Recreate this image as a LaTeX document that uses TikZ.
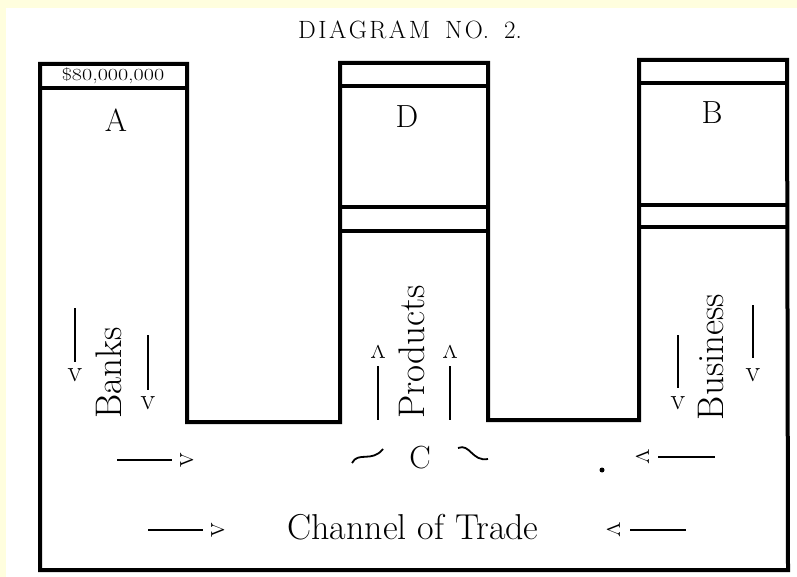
\documentclass[tikz,border=0pt]{standalone}
\definecolor{cream}{RGB}{255,254,222}
\begin{document}
\begin{tikzpicture}[x=1pt,y=-1pt,
  wall/.style={line width=4pt, line join=miter},
  lbl/.style={font=\fontsize{32}{32}\selectfont, inner sep=0pt},
  word/.style={font=\fontsize{37}{37}\selectfont, inner sep=0pt, rotate=90},
  stem/.style={line width=1.6pt},
  tip/.style={font=\fontsize{30}{30}\selectfont, inner sep=0pt},
  wave/.style={line width=1.8pt},
]
\useasboundingbox (0,0) rectangle (797,577);
\fill[cream] (0,0) rectangle (797,577);
\fill[white] (6,8) rectangle (797,577);

% title
\node[inner sep=0pt, font=\fontsize{25}{25}\selectfont] (title) at (410,30) {D\kern2.5pt I\kern2.5pt A\kern2.5pt G\kern2.5pt R\kern2.5pt A\kern2.5pt M\enskip\kern2.5pt N\kern2.5pt O.\enskip\kern2.5pt 2.};

% outline of the three columns and the channel
\draw[wall] (40,64) -- (187,64) -- (187,422) -- (340,422) -- (340,63) -- (488,63)
  -- (488,420) -- (639,420) -- (639,60) -- (787,60) -- (788,570) -- (40,570) -- cycle;
% strips
\draw[wall] (40,88) -- (187,88);
\draw[wall] (340,86) -- (488,86);
\draw[wall] (340,207) -- (488,207);
\draw[wall] (340,231) -- (488,231);
\draw[wall] (639,83) -- (787,83);
\draw[wall] (639,205) -- (787,205);
\draw[wall] (639,227) -- (787,227);

\node[inner sep=0pt, font=\fontsize{17}{17}\selectfont, xscale=1.3] (amount) at (113,76) {\$80,000,000};

\node[lbl] (A) at (116,120) {A};
\node[lbl] (D) at (407,117) {D};
\node[lbl] (B) at (712,113) {B};
\node[lbl] (C) at (420,458) {C};

\node[word] (banks) at (109,373) {Banks};
\node[word] (products) at (412,352) {Products};
\node[word] (business) at (711,357) {Business};
\node[inner sep=0pt, font=\fontsize{36}{36}\selectfont] (trade) at (413,527) {Channel of Trade};

% Banks arrows
\coordinate (b1s) at (75,308); \coordinate (b1e) at (75,362);
\draw[stem] (b1s) -- (b1e);
\node[tip] (b1t) at (75,375) {v};
\coordinate (b2s) at (148,335); \coordinate (b2e) at (148,390);
\draw[stem] (b2s) -- (b2e);
\node[tip] (b2t) at (148,403) {v};
\coordinate (b3s) at (117,460); \coordinate (b3e) at (172,460);
\draw[stem] (b3s) -- (b3e);
\node[tip, rotate=90] (b3t) at (187,460) {v};

% Products arrows
\node[tip, rotate=180] (p1t) at (378,352) {v};
\coordinate (p1s) at (378,366); \coordinate (p1e) at (378,420);
\draw[stem] (p1s) -- (p1e);
\node[tip, rotate=180] (p2t) at (450,352) {v};
\coordinate (p2s) at (450,366); \coordinate (p2e) at (450,420);
\draw[stem] (p2s) -- (p2e);

% marks beside C
\draw[wave] (352,463) .. controls (358,451) and (372,463) .. (383,449);
\draw[wave] (458,448) .. controls (470,443) and (472,462) .. (488,459);

% Business arrows
\coordinate (s1s) at (678,335); \coordinate (s1e) at (678,388);
\draw[stem] (s1s) -- (s1e);
\node[tip] (s1t) at (678,403) {v};
\coordinate (s2s) at (753,305); \coordinate (s2e) at (753,358);
\draw[stem] (s2s) -- (s2e);
\node[tip] (s2t) at (753,375) {v};
\node[tip, rotate=-90] (s3t) at (643,457) {v};
\coordinate (s3s) at (658,457); \coordinate (s3e) at (715,457);
\draw[stem] (s3s) -- (s3e);
\fill (602,470) circle (2.5);

% Channel arrows
\coordinate (c1s) at (148,530); \coordinate (c1e) at (203,530);
\draw[stem] (c1s) -- (c1e);
\node[tip, rotate=90] (c1t) at (218,530) {v};
\node[tip, rotate=-90] (c2t) at (614,530) {v};
\coordinate (c2s) at (630,530); \coordinate (c2e) at (686,530);
\draw[stem] (c2s) -- (c2e);
\end{tikzpicture}
\end{document}
